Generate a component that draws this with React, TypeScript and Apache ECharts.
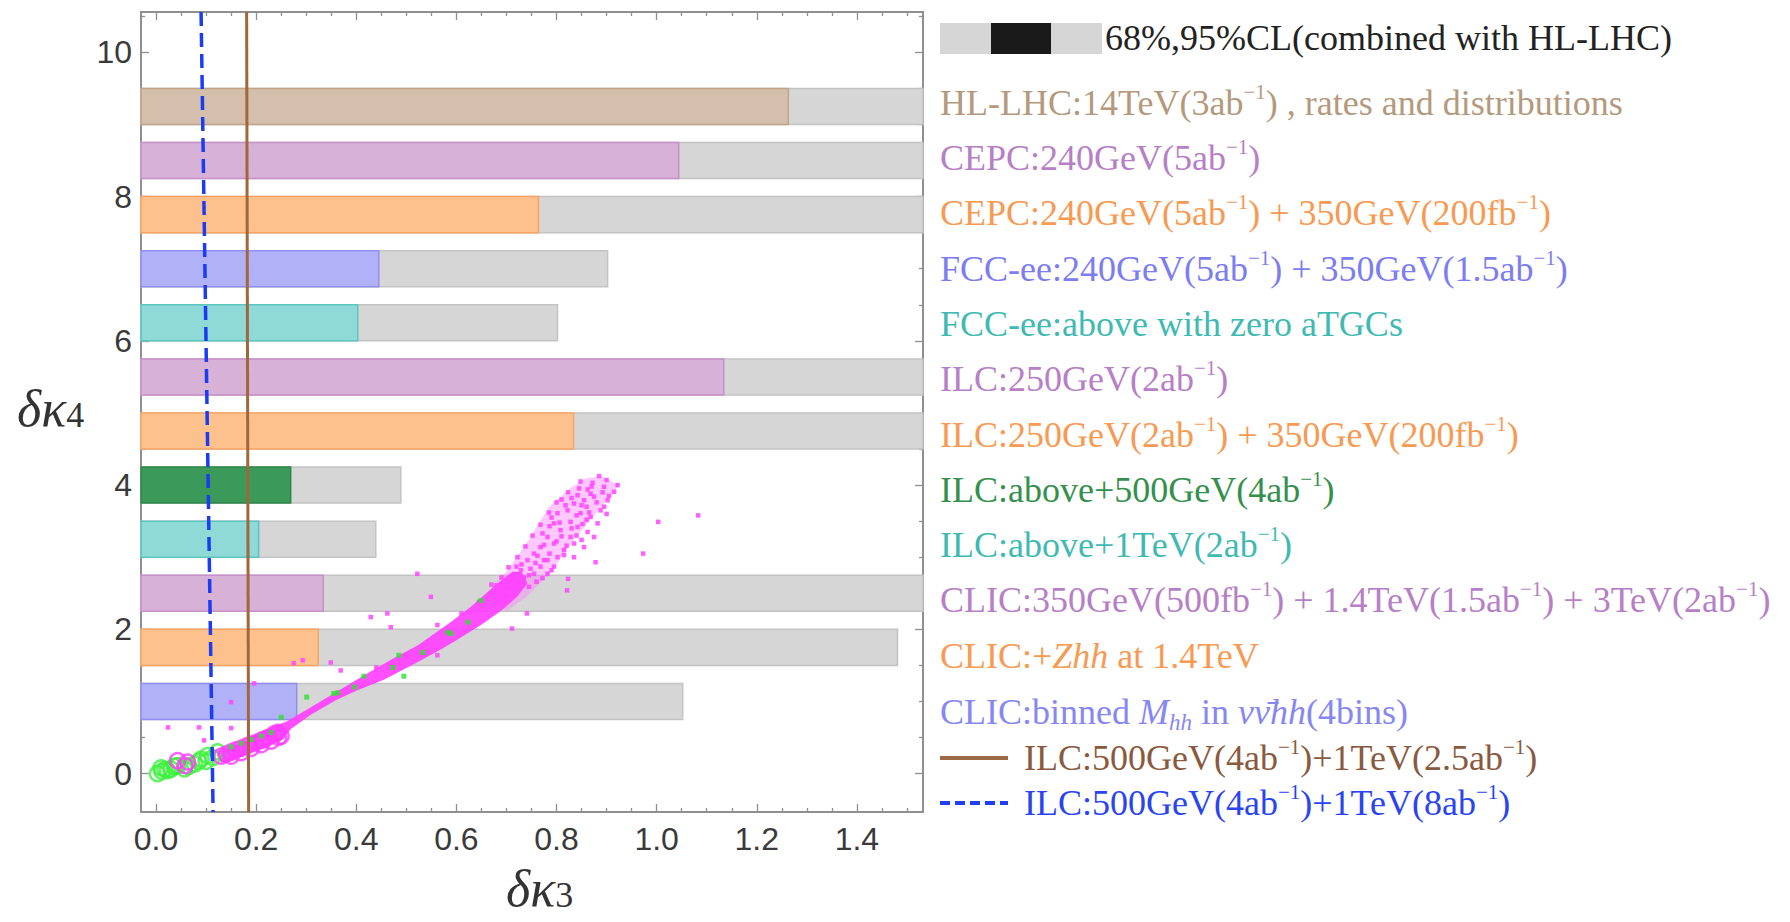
import React, { useEffect, useRef } from "react";
import * as echarts from "echarts";

const SERIF = '"Liberation Serif", "DejaVu Serif", serif';
const SANS = '"Liberation Sans", Arial, sans-serif';

// ---------- axes ----------
const xRange = [-0.03, 1.532];
const yRange = [-0.533, 10.56];
const xMajorTicks = [0, 0.2, 0.4, 0.6, 0.8, 1.0, 1.2, 1.4];
const xMinorTicks = [0.05, 0.1, 0.15, 0.25, 0.3, 0.35, 0.45, 0.5, 0.55, 0.65, 0.7, 0.75, 0.85, 0.9, 0.95, 1.05, 1.1, 1.15, 1.25, 1.3, 1.35, 1.45, 1.5];
const yMajorTicks = [0, 2, 4, 6, 8, 10];
const yMinorTicks = [0.5, 1, 1.5, 2.5, 3, 3.5, 4.5, 5, 5.5, 6.5, 7, 7.5, 8.5, 9, 9.5, 10.5];

// ---------- experiments (bars) ----------
const experimentLabels = [
  "{n|HL-LHC:14TeV(3ab}{s|−1}{n|) , rates and distributions}",
  "{n|CEPC:240GeV(5ab}{s|−1}{n|)}",
  "{n|CEPC:240GeV(5ab}{s|−1}{n|) + 350GeV(200fb}{s|−1}{n|)}",
  "{n|FCC-ee:240GeV(5ab}{s|−1}{n|) + 350GeV(1.5ab}{s|−1}{n|)}",
  "{n|FCC-ee:above with zero aTGCs}",
  "{n|ILC:250GeV(2ab}{s|−1}{n|)}",
  "{n|ILC:250GeV(2ab}{s|−1}{n|) + 350GeV(200fb}{s|−1}{n|)}",
  "{n|ILC:above+500GeV(4ab}{s|−1}{n|)}",
  "{n|ILC:above+1TeV(2ab}{s|−1}{n|)}",
  "{n|CLIC:350GeV(500fb}{s|−1}{n|) + 1.4TeV(1.5ab}{s|−1}{n|) + 3TeV(2ab}{s|−1}{n|)}",
  "{n|CLIC:+}{i|Zhh}{n| at 1.4TeV}",
  "{n|CLIC:binned }{i|M}{b|hh}{n| in }{i|νν̄hh}{n|(4bins)}",
];
const barRowY = [9.25, 8.5, 7.75, 7.0, 6.25, 5.5, 4.75, 4.0, 3.25, 2.5, 1.75, 1.0];
const cl68 = [1.263, 1.044, 0.764, 0.445, 0.403, 1.134, 0.834, 0.269, 0.205, 0.334, 0.324, 0.281];
const cl95 = [1.6, 1.6, 1.6, 0.902, 0.802, 1.6, 1.6, 0.489, 0.439, 1.6, 1.481, 1.052];

const clLegendLabel = "{n|68%,95%CL(combined with HL-LHC)}";
const brownLineLabel = "{n|ILC:500GeV(4ab}{s|−1}{n|)+1TeV(2.5ab}{s|−1}{n|)}";
const blueLineLabel = "{n|ILC:500GeV(4ab}{s|−1}{n|)+1TeV(8ab}{s|−1}{n|)}";

// ---------- lines ----------
const brownLine = [[0.181, 10.56], [0.185, -0.533]];
const blueLine = [[0.09, 10.56], [0.114, -0.533]];

// ---------- scatter ----------
const greenRings = [
  [0.003, 0.0], [0.012, 0.03], [0.023, 0.04], [0.01, 0.08], [0.03, 0.06], [0.036, 0.1],
  [0.043, 0.11], [0.057, 0.065], [0.065, 0.1], [0.077, 0.13], [0.085, 0.17], [0.09, 0.2],
  [0.1, 0.17], [0.103, 0.25], [0.113, 0.22], [0.123, 0.3], [0.018, 0.06],
];
const magentaRings = [
  [0.043, 0.18], [0.058, 0.11], [0.063, 0.16], [0.13, 0.24], [0.14, 0.27], [0.15, 0.3],
  [0.16, 0.33], [0.17, 0.35], [0.18, 0.38], [0.19, 0.41], [0.2, 0.43], [0.21, 0.46],
  [0.215, 0.47], [0.223, 0.5], [0.236, 0.55], [0.243, 0.57], [0.25, 0.52], [0.23, 0.45],
  [0.19, 0.35], [0.17, 0.29], [0.15, 0.24], [0.21, 0.4], [0.245, 0.5],
];
const magentaCore = [
  [0.13, 0.15], [0.12, 0.3], [0.18, 0.46], [0.236, 0.66], [0.26, 0.72], [0.3, 0.88],
  [0.35, 1.09], [0.415, 1.36], [0.47, 1.58], [0.523, 1.78], [0.589, 2.1], [0.63, 2.32],
  [0.663, 2.52], [0.69, 2.68], [0.712, 2.8], [0.73, 2.8], [0.742, 2.64], [0.722, 2.46],
  [0.69, 2.26], [0.649, 2.06], [0.6, 1.85], [0.569, 1.72], [0.51, 1.5], [0.455, 1.3],
  [0.4, 1.15], [0.36, 1.02], [0.31, 0.82], [0.27, 0.62], [0.25, 0.46], [0.2, 0.32],
  [0.15, 0.17],
];
const magentaCloud = [
  [0.66, 2.5], [0.7, 2.8], [0.745, 3.25], [0.785, 3.7], [0.83, 3.97], [0.86, 4.1],
  [0.89, 4.12], [0.925, 4.0], [0.89, 3.7], [0.835, 3.25], [0.79, 2.8], [0.74, 2.45],
  [0.7, 2.25],
];
const magentaDots = [
  [0.885, 4.125], [0.845, 3.954], [0.862, 3.94], [0.895, 3.977], [0.922, 4.0], [0.915, 3.907],
  [0.835, 3.745], [0.855, 3.79], [0.875, 3.84], [0.902, 3.79], [0.888, 3.65], [0.822, 3.65],
  [0.802, 3.61], [0.848, 3.61], [0.868, 3.56], [0.828, 3.49], [0.795, 3.47], [0.842, 3.42],
  [0.882, 3.47], [0.808, 3.375], [0.862, 3.35], [0.782, 3.28], [0.828, 3.28], [0.875, 3.28],
  [0.795, 3.19], [0.835, 3.19], [0.768, 3.14], [0.815, 3.1], [0.855, 3.14], [0.755, 3.05],
  [0.802, 3.0], [0.782, 2.96], [0.835, 3.0], [0.742, 2.96], [0.768, 2.87], [0.795, 2.87],
  [0.729, 2.82], [0.755, 2.77], [0.782, 2.77], [0.704, 2.86], [0.878, 2.93], [0.823, 2.7],
  [0.821, 2.54], [0.81, 3.8], [0.79, 3.55], [0.86, 3.7], [0.9, 3.6], [0.84, 3.3],
  [0.68, 2.61], [0.7, 2.58], [0.722, 2.63], [0.745, 2.59], [0.76, 2.66], [0.69, 2.72],
  [0.712, 2.69], [0.735, 2.72], [0.772, 2.71], [0.72, 2.87], [0.748, 2.84], [0.79, 2.82],
  [0.722, 3.0], [0.762, 3.02], [0.786, 3.05], [0.815, 3.03], [0.738, 3.15], [0.775, 3.17],
  [0.82, 3.16], [0.752, 3.3], [0.772, 3.33], [0.81, 3.29], [0.768, 3.45], [0.786, 3.43],
  [0.806, 3.48], [0.852, 3.46], [0.785, 3.62], [0.84, 3.58], [0.865, 3.62], [0.8, 3.76],
  [0.818, 3.72], [0.88, 3.76], [0.823, 3.9], [0.842, 3.86], [0.868, 3.88], [0.892, 3.9],
  [0.905, 3.85], [0.848, 4.05], [0.872, 4.03], [0.9, 4.07], [0.87, 3.98], [0.83, 3.82],
  [0.85, 3.72], [0.895, 3.7], [0.86, 3.52], [0.83, 3.4], [0.85, 3.24], [0.8, 3.22],
  [0.73, 2.9], [0.745, 2.75], [0.758, 2.92], [0.775, 2.96], [0.716, 2.76], [0.7, 2.66],
  [1.003, 3.49], [1.083, 3.58], [0.973, 3.05], [0.522, 2.77], [0.549, 2.45], [0.429, 2.17],
  [0.462, 2.22], [0.469, 2.03], [0.562, 2.06], [0.711, 2.01], [0.741, 2.22], [0.562, 1.64],
  [0.024, 0.64], [0.086, 0.64], [0.15, 0.63], [0.15, 0.99], [0.196, 1.25], [0.275, 1.53],
  [0.293, 1.57], [0.349, 1.54], [0.369, 1.43], [0.096, 0.46], [0.44, 1.47], [0.5, 1.63],
  [0.61, 2.22], [0.67, 2.62], [0.7, 2.45], [0.645, 2.38], [0.585, 1.95], [0.54, 1.68],
];
const greenDots = [
  [0.15, 0.37], [0.17, 0.42], [0.19, 0.47], [0.21, 0.52], [0.23, 0.57], [0.25, 0.78],
  [0.301, 1.06], [0.355, 1.11], [0.363, 1.12], [0.396, 1.2], [0.415, 1.35], [0.473, 1.47],
  [0.485, 1.64], [0.495, 1.35], [0.533, 1.68], [0.583, 1.96], [0.589, 1.94], [0.623, 2.1],
  [0.649, 2.4],
];

// ---------- styles ----------
const barFills = ["#d3bfab", "#d7b1d6", "#fdc18d", "#b1b1f8", "#8fd9d6", "#d7b1d6", "#fdc18d", "#3b9a5a", "#8fd9d6", "#d7b1d6", "#fdc18d", "#b1b1f8"];
const barStrokes = ["#c4a486", "#c78fcb", "#f9a463", "#8f8ff2", "#5cc5bf", "#c78fcb", "#f9a463", "#2f8748", "#5cc5bf", "#c78fcb", "#f9a463", "#8f8ff2"];
const labelColors = ["#b4997c", "#b77fc6", "#f89a52", "#7d7df2", "#3fbab2", "#b77fc6", "#f89a52", "#35904d", "#3fbab2", "#b77fc6", "#f89a52", "#8787f4"];
const legendRowPx = [103, 158, 213, 269, 324, 379, 435, 490, 545, 600, 656, 712];
const BAR_HALF = 0.25;
const FRAME = "#8f8f8f";

const mkRich = (color: string) => ({
  n: { fontFamily: SERIF, fontSize: 36, lineHeight: 44, fill: color },
  s: { fontFamily: SERIF, fontSize: 21, lineHeight: 20, verticalAlign: "top", fill: color },
  i: { fontFamily: SERIF, fontSize: 36, lineHeight: 44, fontStyle: "italic", fill: color },
  b: { fontFamily: SERIF, fontSize: 23, lineHeight: 22, fontStyle: "italic", verticalAlign: "bottom", fill: color },
});

const textEl = (x: number, y: number, text: string, color: string) => ({
  type: "text",
  x,
  y,
  z: 100,
  silent: true,
  style: {
    text,
    rich: mkRich(color),
    fill: color,
    align: "left",
    verticalAlign: "middle",
    textAlign: "left",
    textVerticalAlign: "middle",
  },
});

const makeBarSeries = (lo: number[], hi: number[], fills: string[], strokes: string[], z: number) => ({
  type: "custom",
  coordinateSystem: "cartesian2d",
  xAxisIndex: 0,
  yAxisIndex: 0,
  z,
  silent: true,
  data: barRowY.map((y, i) => [lo[i], hi[i], y]),
  renderItem: (params: any, api: any) => {
    const x0 = api.value(0);
    const x1 = api.value(1);
    const yc = api.value(2);
    const p0 = api.coord([x0, yc + BAR_HALF]);
    const p1 = api.coord([x1, yc - BAR_HALF]);
    const cs = params.coordSys;
    const shape = echarts.graphic.clipRectByRect(
      { x: p0[0], y: p0[1], width: p1[0] - p0[0], height: p1[1] - p0[1] },
      { x: cs.x, y: cs.y, width: cs.width, height: cs.height }
    );
    if (!shape) return null;
    return {
      type: "rect",
      shape,
      style: { fill: fills[params.dataIndex], stroke: strokes[params.dataIndex], lineWidth: 1.5 },
    };
  },
});

const polygonSeries = (pts: number[][], fill: string, opacity: number, z: number) => ({
  type: "custom",
  coordinateSystem: "cartesian2d",
  xAxisIndex: 0,
  yAxisIndex: 0,
  z,
  silent: true,
  data: [[pts[0][0], pts[0][1]]],
  renderItem: (params: any, api: any) => ({
    type: "polygon",
    shape: { points: pts.map((p) => api.coord(p)) },
    style: { fill, opacity },
  }),
});

const baseX = (position: string, ticks: number[], len: number, showLine: boolean, showLabel: boolean) => ({
  type: "value",
  min: xRange[0],
  max: xRange[1],
  position,
  axisLine: { show: showLine, onZero: false, lineStyle: { color: FRAME, width: 2 } },
  axisTick: { show: true, inside: true, length: len, customValues: ticks, lineStyle: { color: FRAME, width: 1.3 } },
  axisLabel: {
    show: showLabel,
    customValues: ticks,
    formatter: (v: number) => v.toFixed(1),
    margin: 11,
    fontSize: 32,
    fontFamily: SANS,
    color: "#3a3a3a",
  },
  splitLine: { show: false },
});

const baseY = (position: string, ticks: number[], len: number, showLine: boolean, showLabel: boolean) => ({
  type: "value",
  min: yRange[0],
  max: yRange[1],
  position,
  axisLine: { show: showLine, onZero: false, lineStyle: { color: FRAME, width: 2 } },
  axisTick: { show: true, inside: true, length: len, customValues: ticks, lineStyle: { color: FRAME, width: 1.3 } },
  axisLabel: {
    show: showLabel,
    customValues: ticks,
    formatter: (v: number) => String(Math.round(v)),
    margin: 9,
    fontSize: 32,
    fontFamily: SANS,
    color: "#3a3a3a",
  },
  splitLine: { show: false },
});

const axisTitle = (x: number, y: number, sub: string) => ({
  type: "text",
  x,
  y,
  z: 100,
  silent: true,
  style: {
    text: `{a|δκ}{b|${sub}}`,
    align: "left",
    verticalAlign: "middle",
    rich: {
      a: { fontFamily: SERIF, fontSize: 52, lineHeight: 50, fontStyle: "italic", fill: "#333" },
      b: { fontFamily: SERIF, fontSize: 36, lineHeight: 18, verticalAlign: "bottom", fill: "#333" },
    },
  },
});

export default function App() {
  const ref = useRef<HTMLDivElement>(null);

  useEffect(() => {
    if (!ref.current) return;
    const chart = echarts.init(ref.current, null, { renderer: "svg" });

    const graphic: any[] = [
      { type: "rect", z: 100, silent: true, shape: { x: 940, y: 23, width: 162, height: 31 }, style: { fill: "#d6d6d6" } },
      { type: "rect", z: 101, silent: true, shape: { x: 991, y: 23, width: 60, height: 31 }, style: { fill: "#1a1a1a" } },
      textEl(1105, 38, clLegendLabel, "#222"),
      ...experimentLabels.map((t, i) => textEl(940, legendRowPx[i], t, labelColors[i])),
      { type: "line", z: 100, silent: true, shape: { x1: 940, y1: 758, x2: 1008, y2: 758 }, style: { stroke: "#9c6a45", lineWidth: 4 } },
      { type: "line", z: 100, silent: true, shape: { x1: 940, y1: 803, x2: 1008, y2: 803 }, style: { stroke: "#2040f0", lineWidth: 4, lineDash: [10, 5] } },
      textEl(1024, 758, brownLineLabel, "#8a5a3e"),
      textEl(1024, 803, blueLineLabel, "#2a44f0"),
      axisTitle(17, 408, "4"),
      axisTitle(506, 888, "3"),
    ];

    const option: any = {
      animation: false,
      backgroundColor: "#ffffff",
      grid: { left: 141, top: 12, width: 782, height: 800, containLabel: false },
      xAxis: [
        baseX("bottom", xMajorTicks, 8, true, true),
        baseX("top", xMajorTicks, 8, true, false),
        baseX("bottom", xMinorTicks, 4, false, false),
        baseX("top", xMinorTicks, 4, false, false),
      ],
      yAxis: [
        baseY("left", yMajorTicks, 8, true, true),
        baseY("right", yMajorTicks, 8, true, false),
        baseY("left", yMinorTicks, 4, false, false),
        baseY("right", yMinorTicks, 4, false, false),
      ],
      graphic,
      series: [
        makeBarSeries(cl95.map((v) => -v), cl95, barRowY.map(() => "#d6d6d6"), barRowY.map(() => "#c3c3c3"), 2),
        makeBarSeries(cl68.map((v) => -v), cl68, barFills, barStrokes, 3),
        {
          type: "scatter",
          xAxisIndex: 0,
          yAxisIndex: 0,
          z: 4,
          silent: true,
          data: greenRings,
          symbol: "circle",
          symbolSize: 15,
          itemStyle: { color: "rgba(0,0,0,0)", borderColor: "#3cf03c", borderWidth: 2.5 },
        },
        {
          type: "scatter",
          xAxisIndex: 0,
          yAxisIndex: 0,
          z: 4,
          silent: true,
          data: magentaRings,
          symbol: "circle",
          symbolSize: 15,
          itemStyle: { color: "rgba(0,0,0,0)", borderColor: "#ff3cff", borderWidth: 2.5 },
        },
        polygonSeries(magentaCloud, "#ff7cff", 0.42, 4),
        polygonSeries(magentaCore, "#ff40ff", 0.92, 4),
        {
          type: "scatter",
          xAxisIndex: 0,
          yAxisIndex: 0,
          z: 5,
          silent: true,
          data: magentaDots,
          symbol: "rect",
          symbolSize: 4.5,
          itemStyle: { color: "#ff44ff", opacity: 0.85 },
        },
        {
          type: "scatter",
          xAxisIndex: 0,
          yAxisIndex: 0,
          z: 5,
          silent: true,
          data: greenDots,
          symbol: "rect",
          symbolSize: 5,
          itemStyle: { color: "#30e030" },
        },
        {
          type: "line",
          xAxisIndex: 0,
          yAxisIndex: 0,
          z: 6,
          silent: true,
          data: brownLine,
          showSymbol: false,
          symbol: "none",
          lineStyle: { color: "#a0673a", width: 3 },
        },
        {
          type: "line",
          xAxisIndex: 0,
          yAxisIndex: 0,
          z: 6,
          silent: true,
          data: blueLine,
          showSymbol: false,
          symbol: "none",
          lineStyle: { color: "#1a3cf5", width: 3.5, type: [14, 7] },
        },
      ],
    };

    chart.setOption(option);
    return () => {
      chart.dispose();
    };
  }, []);

  return <div ref={ref} style={{ position: "absolute", left: 0, top: 0, width: 1790, height: 922 }} />;
}
